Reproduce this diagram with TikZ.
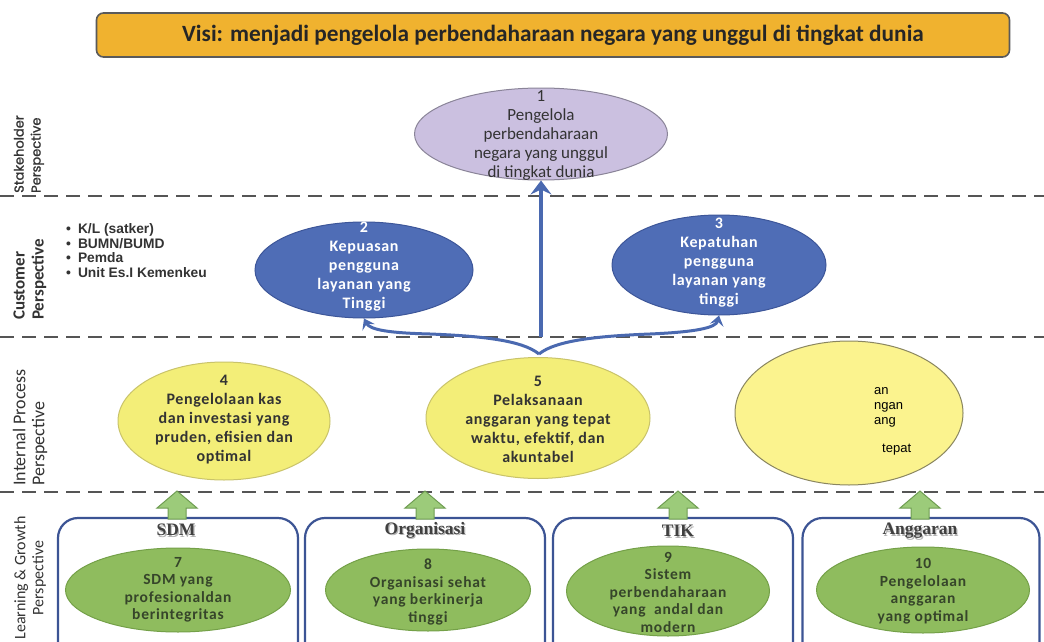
\documentclass[tikz,border=0pt]{standalone}
\usepackage{fontspec}
\setmainfont{Carlito}
\newfontfamily\ellf[LetterSpace=4]{Carlito}
\newfontfamily\gellf[LetterSpace=5]{Carlito}
\newfontfamily\arialf{Liberation Sans}
\newfontfamily\gothicf[FakeBold=1.2]{Poppins}
\newfontfamily\seriff{Liberation Serif}
\usetikzlibrary{shapes.geometric,arrows.meta}
\definecolor{visorange}{HTML}{F0B22F}
\definecolor{visborder}{HTML}{5A5A5A}
\definecolor{lav}{HTML}{CBC0E0}
\definecolor{lavd}{HTML}{8A8498}
\definecolor{bluefill}{HTML}{4F6DB6}
\definecolor{bluedraw}{HTML}{3D5699}
\definecolor{yel}{HTML}{F3EE78}
\definecolor{yeld}{HTML}{C9C36A}
\definecolor{yel2}{HTML}{FBF38E}
\definecolor{yel2d}{HTML}{8A8660}
\definecolor{grn}{HTML}{8FBC5E}
\definecolor{grnd}{HTML}{74A048}
\definecolor{grntxt}{HTML}{36452A}
\definecolor{garrowfill}{HTML}{9CCB7A}
\definecolor{garrowdraw}{HTML}{6F9D52}
\definecolor{boxblue}{HTML}{3C5494}
\definecolor{connblue}{HTML}{4A69B0}
\definecolor{sepgray}{HTML}{555555}
\definecolor{lbl}{HTML}{333333}
\begin{document}
\begin{tikzpicture}[x=1pt,y=-1pt,
  sep/.style={draw=sepgray, line width=2pt, dash pattern=on 14pt off 8pt},
  visbox/.style={draw=visborder, line width=1.6pt, fill=visorange, rounded corners=7pt,
     minimum width=913pt, minimum height=44pt, inner sep=0pt,
     font=\fontsize{23.3}{26}\selectfont\bfseries, text=black!85},
  ell/.style={shape=ellipse, inner sep=0pt, line width=1pt},
  etxt/.style={align=center, inner sep=0pt, font=\fontsize{16}{19}\selectfont\ellf\bfseries},
  gtxt/.style={align=center, inner sep=0pt, font=\fontsize{15.5}{17.5}\selectfont\gellf\bfseries, text=grntxt},
  gbox/.style={draw=boxblue, line width=2.2pt, rounded corners=20pt, minimum height=150pt, inner sep=0pt},
  boxlbl/.style={inner sep=0pt, font=\fontsize{17.5}{20}\selectfont\seriff\bfseries, text=black!75},
  boxsh/.style={inner sep=0pt, font=\fontsize{17.5}{20}\selectfont\seriff\bfseries, text=black!30},
  conn/.style={draw=connblue, line width=4pt, -{Stealth[length=14pt,width=21pt,inset=5pt]}},
  sconn/.style={draw=connblue, line width=3pt, -{Stealth[length=10pt,width=14pt,inset=4pt]}},
  persp/.style={rotate=90, inner sep=0pt, text=lbl},
  gup/.style={draw=garrowdraw, fill=garrowfill, line width=1pt, line join=miter}
]
\useasboundingbox (0,0) rectangle (1044,642);
\clip (0,0) rectangle (1044,642);
\fill[white] (0,0) rectangle (1044,642);

% separators
\draw[sep] (0,196) -- (1044,196);
\draw[sep] (0,337) -- (1044,337);
\draw[sep] (0,492) -- (1044,492);

% vision
\node[visbox] (vis) at (553,35) {Visi: menjadi pengelola perbendaharaan negara yang unggul di tingkat dunia};

% perspective labels
\node[persp, anchor=west, align=left, font=\fontsize{13}{17}\selectfont\gothicf] (pst) at (29,193) {Stakeholder\\Perspective};
\node[persp, anchor=west, align=left, font=\fontsize{17}{19}\selectfont\bfseries] (pcu) at (30,320) {Customer\\Perspective};
\node[persp, anchor=west, align=left, font=\fontsize{18}{19}\selectfont] (pip) at (30,486) {Internal Process\\Perspective};
\node[persp, anchor=center, align=center, font=\fontsize{16}{18}\selectfont] (plg) at (30,578) {Learning \& Growth\\Perspective};

% customer list
\node[anchor=north west, align=left, inner sep=0pt, text=black!80,
      font=\fontsize{13.8}{14.8}\selectfont\arialf\bfseries] (clist) at (66,223)
  {\textbullet\hspace{7pt}K/L (satker)\\\textbullet\hspace{7pt}BUMN/BUMD\\\textbullet\hspace{7pt}Pemda\\\textbullet\hspace{7pt}Unit Es.I Kemenkeu};

% stakeholder ellipse
\node[ell, fill=lav, draw=lavd, minimum width=253pt, minimum height=92pt] (e1) at (541,134) {};
\node[align=center, inner sep=0pt, font=\fontsize{17}{19}\selectfont, text=black!80] (e1t) at (541,135) {1\\Pengelola\\perbendaharaan\\negara yang unggul\\di tingkat dunia};

% customer ellipses
\node[ell, fill=bluefill, draw=bluedraw, minimum width=218pt, minimum height=96pt] (e2) at (364,270) {};
\node[etxt, text=white] (e2t) at (364,267) {2\\Kepuasan\\pengguna\\layanan yang\\Tinggi};
\node[ell, fill=bluefill, draw=bluedraw, minimum width=214pt, minimum height=100pt] (e3) at (719,265) {};
\node[etxt, text=white] (e3t) at (719,263) {3\\Kepatuhan\\pengguna\\layanan yang\\tinggi};

% internal process ellipses
\node[ell, fill=yel, draw=yeld, minimum width=212pt, minimum height=118pt] (e4) at (224,421) {};
\node[etxt, text=black!80] (e4t) at (224,420) {4\\Pengelolaan kas\\dan investasi yang\\pruden, efisien dan\\optimal};
\node[ell, fill=yel, draw=yeld, minimum width=224pt, minimum height=121pt] (e5) at (538,418) {};
\node[etxt, text=black!80] (e5t) at (538,419) {5\\Pelaksanaan\\anggaran yang tepat\\waktu, efektif, dan\\akuntabel};
\node[ell, fill=yel2, draw=yel2d, minimum width=228pt, minimum height=144pt] (e6) at (849,413) {};
\node[anchor=north west, align=left, inner sep=0pt, font=\fontsize{13}{15}\selectfont\arialf] (e6a) at (874,387) {an\\ngan\\ang};
\node[anchor=north west, inner sep=0pt, font=\fontsize{13}{15}\selectfont\arialf] (e6b) at (882,444) {tepat};

% learning & growth boxes
\node[gbox, minimum width=240pt] (b1) at (178,593) {};
\node[gbox, minimum width=240pt] (b2) at (425,593) {};
\node[gbox, minimum width=240pt] (b3) at (673,593) {};
\node[gbox, minimum width=237pt] (b4) at (921,593) {};

\foreach \nm/\xx/\yy/\tx in {b1l/176/530/SDM, b2l/425/530/Organisasi, b3l/678/531/TIK, b4l/920/531/Anggaran}{
  \node[boxsh] at (\xx+1.2,\yy+1.8) {\tx};
  \node[boxlbl] (\nm) at (\xx,\yy) {\tx};
}

\node[ell, fill=grn, draw=grnd, minimum width=225pt, minimum height=84pt] (e7) at (178,590) {};
\node[gtxt] (e7t) at (178,590) {7\\SDM yang\\profesionaldan\\berintegritas};
\node[ell, fill=grn, draw=grnd, minimum width=205pt, minimum height=82pt] (e8) at (428,590) {};
\node[gtxt] (e8t) at (428,592) {8\\Organisasi sehat\\yang berkinerja\\tinggi};
\node[ell, fill=grn, draw=grnd, minimum width=203pt, minimum height=90pt] (e9) at (668,591) {};
\node[gtxt] (e9t) at (668,592) {9\\Sistem\\perbendaharaan\\yang\ \ andal dan\\modern};
\node[ell, fill=grn, draw=grnd, minimum width=213pt, minimum height=86pt] (e10) at (923,590) {};
\node[gtxt] (e10t) at (923,591) {10\\Pengelolaan\\anggaran\\yang optimal};

% green block arrows (box -> internal process)
\foreach \nm/\xx in {b1/177, b2/425, b3/678, b4/920}{
  \draw[gup] (\xx-9,519) -- (\xx-9,508) -- (\xx-20,508) -- (\xx,491) -- (\xx+20,508) -- (\xx+9,508) -- (\xx+9,519) -- cycle;
}

% blue connectors
\coordinate (fork) at (539,354);
\coordinate (vbase) at (541,337);
\draw[conn] (vbase) -- (e1.south);
\draw[sconn] (fork) .. controls (522,340) and (480,336) .. (430,334)
   .. controls (390,333) and (370,330) .. (e2.south);
\draw[sconn] (fork) .. controls (556,340) and (600,336) .. (650,334)
   .. controls (695,332) and (716,328) .. (e3.south);
\end{tikzpicture}
\end{document}
